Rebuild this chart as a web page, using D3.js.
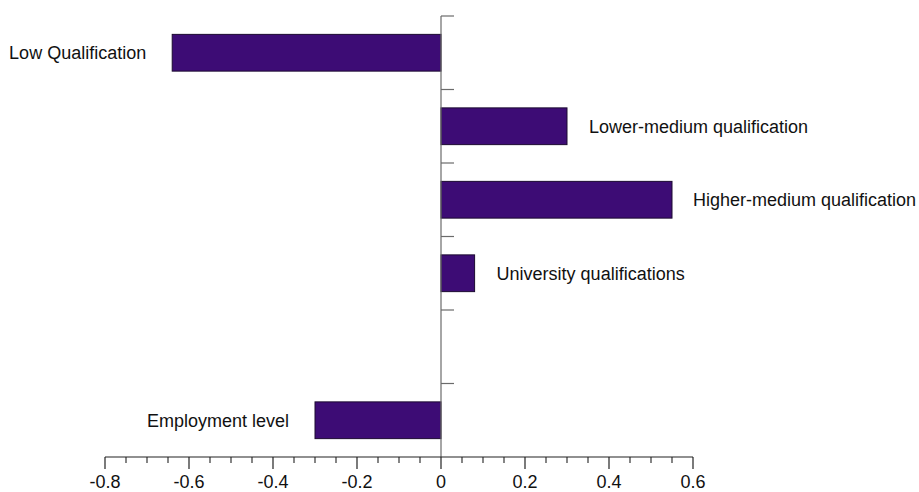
<!DOCTYPE html>
<html>
<head>
<meta charset="utf-8">
<script src="https://cdn.jsdelivr.net/npm/d3@7"></script>
<style>
  html, body { margin: 0; padding: 0; background: #fff; }
  svg { display: block; }
  text { font-family: "Liberation Sans", Arial, Helvetica, sans-serif; }
</style>
</head>
<body>
<svg id="chart" width="919" height="492"></svg>
<script>
// Category rows, top to bottom ("" is an empty spacer row)
const categories = [
  "Low Qualification",
  "Lower-medium qualification",
  "Higher-medium qualification",
  "University qualifications",
  "",
  "Employment level"
];
const values = [-0.64, 0.30, 0.55, 0.08, null, -0.30];
const xTicks = [-0.8, -0.6, -0.4, -0.2, 0, 0.2, 0.4, 0.6];
const xTickLabels = ["-0.8", "-0.6", "-0.4", "-0.2", "0", "0.2", "0.4", "0.6"];

const W = 919, H = 492;
const svg = d3.select("#chart");

const x = d3.scaleLinear().domain([-0.8, 0.6]).range([105, 693]);
const y = d3.scaleBand().domain(d3.range(categories.length))
  .range([16, 457]).paddingInner(0.5).paddingOuter(0.25);

const barFill = "#3d0c75";
const fontSize = 18;

// bars
const rows = categories.map((c, i) => ({ c, v: values[i], i })).filter(d => d.v !== null);
svg.append("g").selectAll("rect").data(rows).join("rect")
  .attr("x", d => Math.min(x(0), x(d.v)))
  .attr("y", d => y(d.i))
  .attr("width", d => Math.abs(x(d.v) - x(0)))
  .attr("height", y.bandwidth())
  .attr("fill", barFill)
  .attr("stroke", "#1c0a30")
  .attr("stroke-width", 1);

// vertical zero line with row separators
const y0 = y.range()[0], y1 = y.range()[1];
const axY = svg.append("g").attr("stroke", "#6b6b6b").attr("stroke-width", 1.2);
axY.append("line").attr("x1", x(0)).attr("x2", x(0)).attr("y1", y0).attr("y2", y1);
const sepYs = d3.range(categories.length).map(i => y0 + i * y.step());
axY.selectAll("line.sep").data(sepYs).join("line").attr("class", "sep")
  .attr("x1", x(0)).attr("x2", x(0) + 13)
  .attr("y1", d => d).attr("y2", d => d);

// bottom axis with major and minor ticks
const ax = svg.append("g").attr("transform", `translate(0,${y1})`);
ax.append("line").attr("x1", x.range()[0]).attr("x2", x.range()[1])
  .attr("stroke", "#222").attr("stroke-width", 1.2);
const minor = d3.range(-0.8, 0.6001, 0.05).map(v => +v.toFixed(2))
  .filter(v => !xTicks.some(t => Math.abs(t - v) < 1e-9));
ax.selectAll("line.minor").data(minor).join("line").attr("class", "minor")
  .attr("x1", d => x(d)).attr("x2", d => x(d)).attr("y1", 0).attr("y2", 6)
  .attr("stroke", "#222").attr("stroke-width", 1.1);
ax.selectAll("line.major").data(xTicks).join("line").attr("class", "major")
  .attr("x1", d => x(d)).attr("x2", d => x(d)).attr("y1", 0).attr("y2", 12)
  .attr("stroke", "#222").attr("stroke-width", 1.2);
ax.selectAll("text").data(xTicks).join("text")
  .attr("x", d => x(d)).attr("y", 31)
  .attr("text-anchor", "middle").attr("font-size", fontSize).attr("fill", "#111")
  .text((d, i) => xTickLabels[i]);

// category labels beside each bar
const gap = 22;
svg.append("g").selectAll("text").data(rows).join("text")
  .attr("font-size", fontSize).attr("fill", "#111")
  .attr("y", d => y(d.i) + y.bandwidth() / 2)
  .attr("dy", "0.35em")
  .text(d => d.c)
  .each(function (d) {
    const t = d3.select(this);
    const w = this.getComputedTextLength();
    if (d.v < 0) {
      t.attr("text-anchor", "end").attr("x", x(d.v) - gap - 4);
    } else {
      t.attr("text-anchor", "start").attr("x", Math.min(x(d.v) + gap, W - w - 3));
    }
  });
</script>
</body>
</html>
